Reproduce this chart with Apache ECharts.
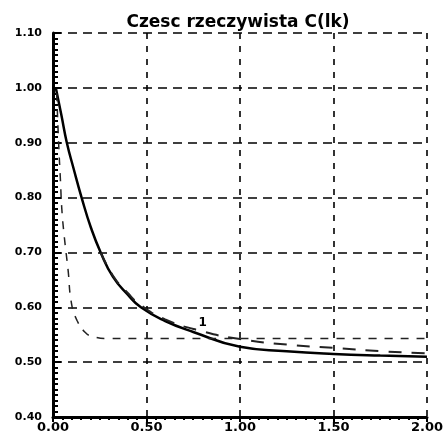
<html lang="pl">
<head>
    <meta charset="UTF-8">
    <title>Czesc rzeczywista</title>
    <script src="https://cdn.jsdelivr.net/npm/echarts@6/dist/echarts.min.js"></script>
    <style>
        html, body { margin: 0; padding: 0; background: #fff; }
        #main { width: 446px; height: 448px; }
    </style>
</head>
<body>
    <div id="main"></div>
    <script type="text/javascript">
        // krzywa ciagla
        var solidX = [0.015, 0.045, 0.074, 0.11, 0.153, 0.203, 0.255, 0.32, 0.40, 0.47, 0.6, 0.75, 1.0, 1.25, 1.5, 1.75, 2.0];
        var solidY = [1.00, 0.95, 0.90, 0.853, 0.80, 0.745, 0.70, 0.656, 0.623, 0.60, 0.575, 0.555, 0.528, 0.52, 0.515, 0.512, 0.51];
        // krzywa kreskowana (stroma)
        var dashX = [0.02, 0.03, 0.04, 0.047, 0.06, 0.08, 0.10, 0.13, 0.17, 0.21, 0.3, 0.5, 1.0, 1.5, 2.0];
        var dashY = [0.99, 0.90, 0.83, 0.78, 0.73, 0.67, 0.605, 0.575, 0.555, 0.547, 0.543, 0.543, 0.543, 0.543, 0.543];
        // krzywa z dlugimi kreskami
        var longX = [0.255, 0.32, 0.40, 0.47, 0.6, 0.8, 1.0, 1.25, 1.5, 1.75, 2.0];
        var longY = [0.70, 0.658, 0.626, 0.604, 0.578, 0.556, 0.542, 0.532, 0.526, 0.52, 0.516];
        // etykieta krzywej
        var markAt = [0.8, 0.572];
        var markText = '1';

        function pairs(xs, ys) {
            var out = [];
            for (var i = 0; i < xs.length; i++) out.push([xs[i], ys[i]]);
            return out;
        }

        var chart = echarts.init(document.getElementById('main'));
        var font = 'DejaVu Sans';
        var option = {
            backgroundColor: '#fff',
            animation: false,
            title: {
                text: 'Czesc rzeczywista C(lk)',
                left: 233,
                textAlign: 'center',
                top: 9,
                textStyle: { fontFamily: font, fontWeight: 'bold', fontSize: 17, color: '#000' }
            },
            grid: { left: 53, right: 14, top: 33, bottom: 31 },
            xAxis: {
                type: 'value',
                min: 0, max: 2, interval: 0.5,
                axisLine: { lineStyle: { color: '#000', width: 3 } },
                axisTick: { show: true, inside: false, length: 5, lineStyle: { color: '#000', width: 2 } },
                minorTick: { show: true, splitNumber: 10, length: 3, lineStyle: { color: '#000', width: 2 } },
                axisLabel: {
                    formatter: function (v) { return v.toFixed(2); },
                    color: '#000', fontFamily: font, fontWeight: 'bold', fontSize: 13, margin: 4
                },
                splitLine: { show: true, lineStyle: { color: '#000', width: 1.6, type: [6, 7] } }
            },
            yAxis: {
                type: 'value',
                min: 0.4, max: 1.1, interval: 0.1,
                axisLine: { show: true, lineStyle: { color: '#000', width: 3 } },
                axisTick: { show: true, inside: true, length: 8, lineStyle: { color: '#000', width: 2 } },
                minorTick: { show: true, splitNumber: 10, length: 5, lineStyle: { color: '#000', width: 2 } },
                axisLabel: {
                    formatter: function (v) { return v.toFixed(2); },
                    color: '#000', fontFamily: font, fontWeight: 'bold', fontSize: 11, margin: 11
                },
                splitLine: { show: true, lineStyle: { color: '#000', width: 1.6, type: [9, 6] } }
            },
            series: [
                {
                    type: 'line', data: pairs(solidX, solidY), smooth: true, symbol: 'none',
                    lineStyle: { color: '#000', width: 2.5 }
                },
                {
                    type: 'line', data: pairs(dashX, dashY), smooth: true, symbol: 'none',
                    lineStyle: { color: '#222', width: 1.5, type: [8, 8] }
                },
                {
                    type: 'line', data: pairs(longX, longY), smooth: true, symbol: 'none',
                    lineStyle: { color: '#222', width: 2, type: [13, 10] },
                    markPoint: {
                        symbol: 'circle', symbolSize: 1,
                        itemStyle: { color: 'transparent' },
                        label: {
                            show: true, formatter: markText, color: '#000',
                            fontFamily: font, fontWeight: 'bold', fontSize: 12, position: 'inside'
                        },
                        data: [{ coord: markAt }]
                    }
                }
            ]
        };
        chart.setOption(option);
    </script>
</body>
</html>
